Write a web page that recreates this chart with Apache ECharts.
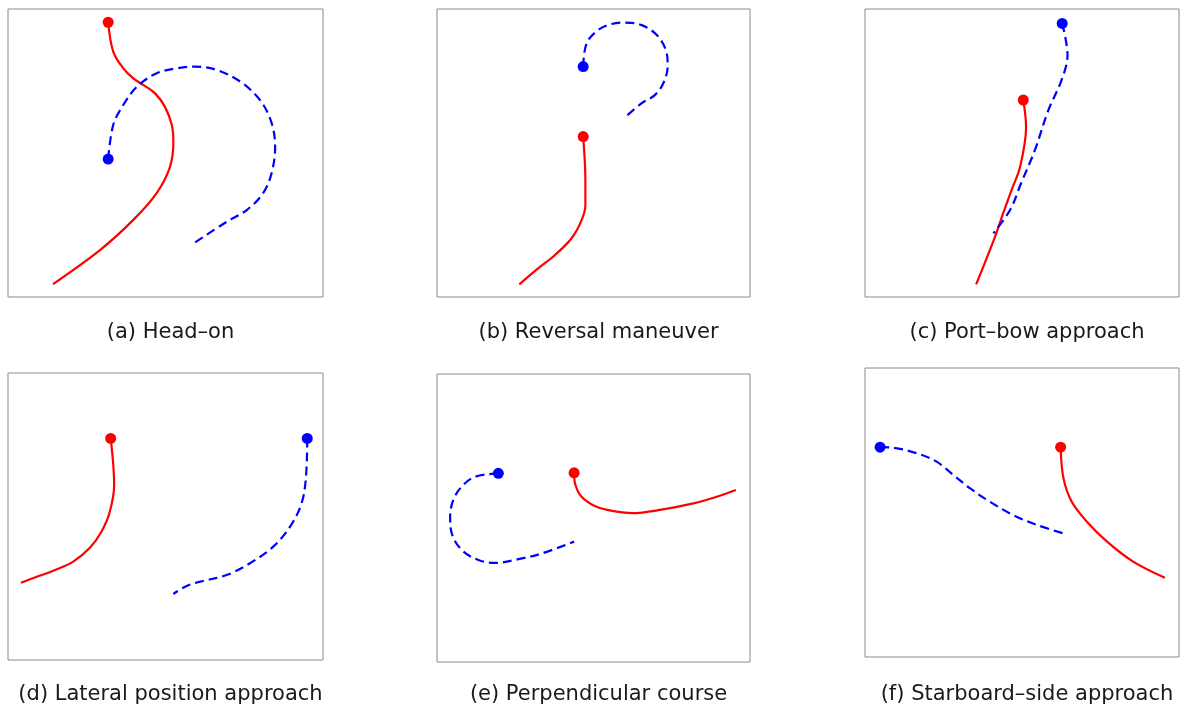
<!DOCTYPE html>
<html><head><meta charset="utf-8">
<script src="https://cdn.jsdelivr.net/npm/echarts@6/dist/echarts.min.js"></script>
<style>html,body{margin:0;padding:0;background:#fff}#c{width:1181px;height:706px}</style>
</head><body><div id="c"></div>
<script>
// Panel captions
const captions = ["(a) Head–on","(b) Reversal maneuver","(c) Port–bow approach","(d) Lateral position approach","(e) Perpendicular course","(f) Starboard–side approach"];

// Trajectories, [x, y] in panel units (0–100), first point = start
const redA = [[31.8,95.4],[33.4,85.2],[36.6,79.4],[39.8,75.9],[43.0,73.6],[46.7,70.7],[49.8,66.1],[52.0,59.7],[52.5,53.8],[51.4,45.1],[47.2,36.1],[39.7,26.7],[29.2,16.3],[14.3,4.5]];
const blueA = [[31.8,47.9],[33.4,59.7],[36.6,66.7],[40.9,73.0],[47.2,77.7],[53.6,79.4],[59.4,80.0],[66.3,78.8],[73.7,74.8],[80.0,68.4],[83.7,60.4],[84.8,52.1],[83.7,43.1],[81.0,36.1],[75.8,30.2],[69.4,26.1],[58.6,18.4]];

const redB = [[46.7,55.7],[47.4,40.6],[47.4,31.9],[46.2,26.7],[43.0,20.4],[37.7,14.6],[32.4,10.0],[26.3,4.4]];
const blueB = [[46.7,80.0],[47.8,88.1],[51.5,92.7],[55.8,94.8],[60.1,95.3],[65.4,94.4],[70.2,91.0],[73.1,85.8],[73.7,80.2],[72.3,74.2],[69.6,70.1],[65.4,67.3],[60.1,62.4]];

const redC = [[50.4,68.4],[51.3,59.0],[49.4,45.2],[46.7,37.2],[44.0,29.1],[41.4,20.9],[35.4,4.4]];
const blueC = [[62.8,95.0],[64.5,84.0],[62.6,75.3],[58.4,64.9],[54.1,51.0],[49.7,39.5],[46.2,30.2],[40.9,22.1]];

const redD = [[32.6,77.2],[33.7,61.0],[32.2,51.2],[29.7,44.8],[26.0,39.1],[20.7,34.3],[14.4,31.1],[9.1,29.0],[4.1,26.9]];
const blueD = [[95.0,77.2],[94.6,63.9],[93.2,54.6],[89.5,46.4],[84.2,39.5],[76.8,33.7],[69.4,29.6],[61.0,27.3],[56.7,25.8],[52.5,23.0]];

const redE = [[43.8,65.7],[44.1,62.0],[46.2,57.4],[51.0,53.9],[57.4,52.2],[62.3,51.7],[71.2,52.8],[81.9,55.1],[89.4,57.4],[95.5,59.7]];
const blueE = [[19.6,65.5],[12.1,64.3],[7.9,60.9],[5.2,56.3],[4.2,50.5],[4.7,44.7],[7.9,38.9],[13.2,35.4],[18.8,34.4],[26.0,35.7],[33.5,37.7],[43.8,41.8]];

const redF = [[62.3,72.6],[63.2,61.9],[65.8,53.8],[70.6,46.9],[77.0,40.0],[85.4,33.0],[95.5,27.4]];
const blueF = [[4.8,72.6],[9.0,72.4],[16.5,70.5],[22.8,67.6],[28.1,63.0],[33.4,58.4],[39.8,53.7],[47.2,49.1],[54.7,45.7],[64.3,42.4]];

const reds = [redA, redB, redC, redD, redE, redF];
const blues = [blueA, blueB, blueC, blueD, blueE, blueF];

const boxes = [
  {l:8,t:9,w:315,h:288,cy:331},
  {l:437,t:9,w:313,h:288,cy:331},
  {l:865,t:9,w:314,h:288,cy:331},
  {l:8,t:373,w:315,h:287,cy:693},
  {l:437,t:374,w:313,h:288,cy:693},
  {l:865,t:368,w:314,h:289,cy:693}
];

const grid=[], xAxis=[], yAxis=[], series=[], title=[];
boxes.forEach((b,i)=>{
  grid.push({left:b.l,top:b.t,width:b.w,height:b.h,show:true,borderColor:'#8a8a8a',borderWidth:1,backgroundColor:'#fff'});
  xAxis.push({type:'value',gridIndex:i,min:0,max:100,show:false});
  yAxis.push({type:'value',gridIndex:i,min:0,max:100,show:false});
  series.push({type:'line',xAxisIndex:i,yAxisIndex:i,data:reds[i],smooth:0.35,showSymbol:false,lineStyle:{color:'#ff0000',width:2.2},z:3});
  series.push({type:'line',xAxisIndex:i,yAxisIndex:i,data:blues[i],smooth:0.35,showSymbol:false,lineStyle:{color:'#0000ff',width:2.2,type:[9,5]},z:3});
  series.push({type:'scatter',xAxisIndex:i,yAxisIndex:i,data:[reds[i][0]],symbolSize:11,itemStyle:{color:'#ff0000',opacity:1},z:4});
  series.push({type:'scatter',xAxisIndex:i,yAxisIndex:i,data:[blues[i][0]],symbolSize:11,itemStyle:{color:'#0000ff',opacity:1},z:4});
  title.push({text:captions[i],left:b.l+b.w/2,top:b.cy-14,textAlign:'center',textStyle:{fontFamily:'DejaVu Sans',fontSize:21,fontWeight:'normal',color:'#1a1a1a'}});
});

const chart = echarts.init(document.getElementById('c'),null,{renderer:'canvas'});
chart.setOption({animation:false,backgroundColor:'#fff',title,grid,xAxis,yAxis,series});
</script></body></html>
